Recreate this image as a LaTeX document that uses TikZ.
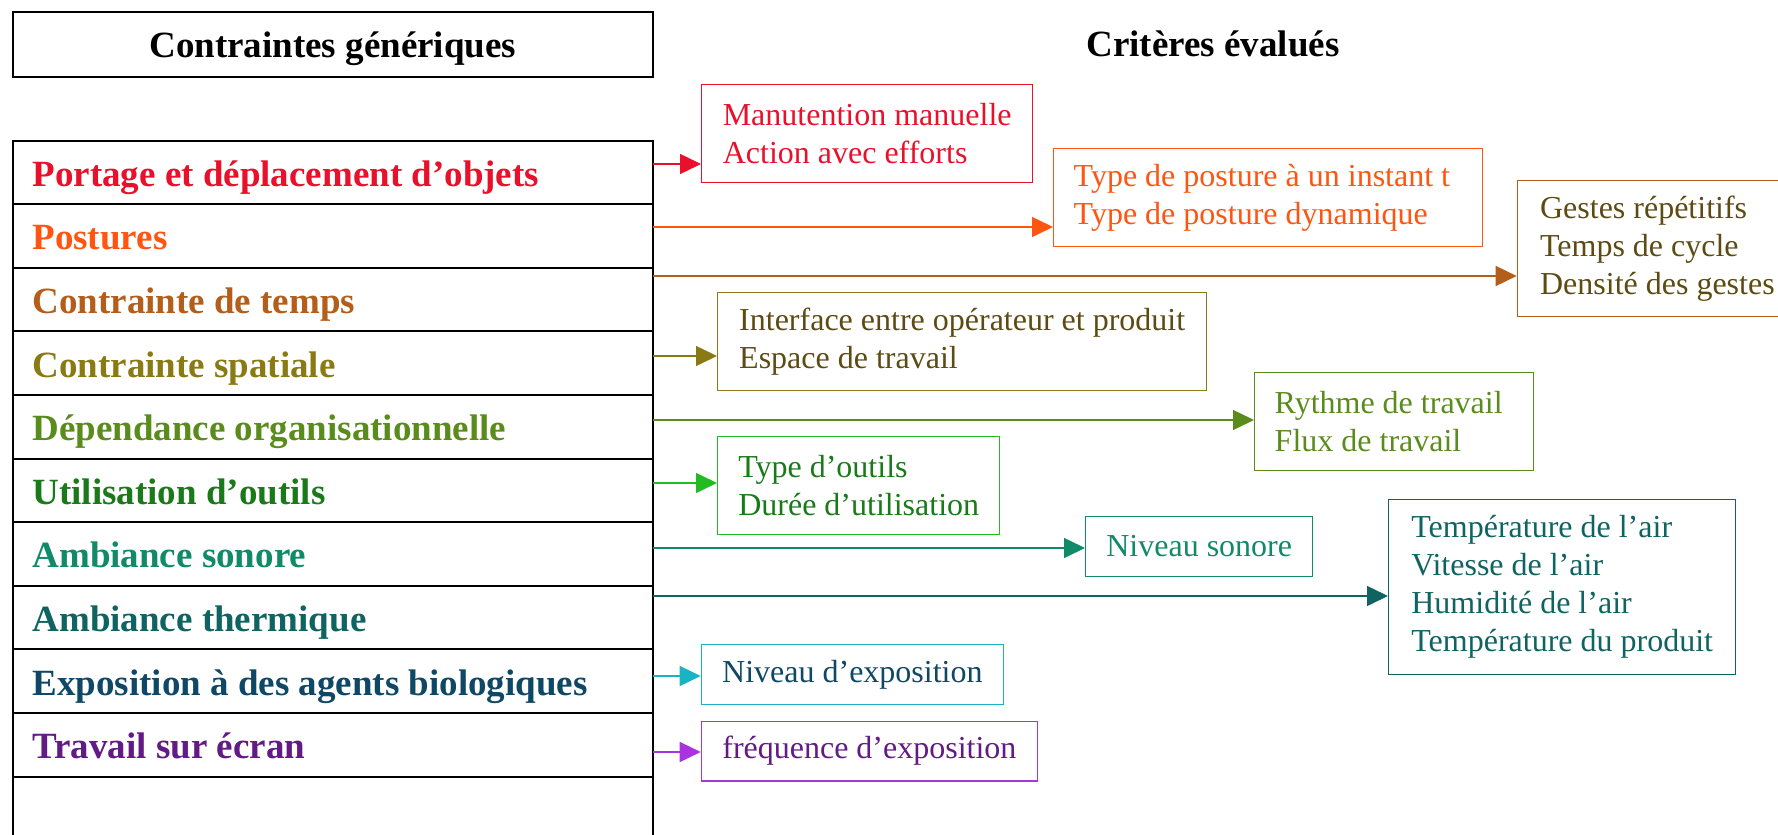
\documentclass[tikz,border=0pt]{standalone}
\usepackage{fontspec}
\setmainfont{Liberation Serif}
\usetikzlibrary{positioning, arrows.meta}

\definecolor{portage}{HTML}{E8102A}
\definecolor{posture}{HTML}{FF5511}
\definecolor{temps}{HTML}{B35E1A}
\definecolor{tempstxt}{HTML}{5C4B12}
\definecolor{spatial}{HTML}{8A7A14}
\definecolor{orga}{HTML}{5A8C1C}
\definecolor{outil}{HTML}{22BB22}
\definecolor{outiltxt}{HTML}{1A7A1A}
\definecolor{sonore}{HTML}{108A68}
\definecolor{thermique}{HTML}{0F6462}
\definecolor{bio}{HTML}{18B4C4}
\definecolor{biotxt}{HTML}{0F4866}
\definecolor{ecran}{HTML}{AA33E0}
\definecolor{ecrantxt}{HTML}{621A84}

\begin{document}
\begin{tikzpicture}[
x=0.5pt, y=-0.5pt,
headbox/.style={draw,
  line width=1pt,
  outer sep=0pt,
  minimum width=320.25pt,
  minimum height=32.2pt,
  text height=13pt, text depth=0pt,
  font=\bfseries\fontsize{18.5}{22}\selectfont
},
rowbox/.style={draw,
  line width=1pt,
  outer sep=0pt,
  inner xsep=10pt, inner ysep=0pt,
  text width=300.25pt,
  minimum height=31.8pt,
  text height=14pt, text depth=0pt,
  align=left,
  execute at begin node={\spaceskip=0pt\xspaceskip=0pt},
  font=\bfseries\fontsize{18.5}{22}\selectfont
},
critbox/.style 2 args={draw,
  line width=0.7pt,
  anchor=north west,
  align=left,
  inner xsep=10pt, inner ysep=0pt,
  minimum width=#1,
  minimum height=#2,
  execute at begin node={\spaceskip=0pt\xspaceskip=0pt},
  font=\fontsize{16}{19}\selectfont
},
link/.style={->, line width=0.75pt},
>={Triangle[length=10.5pt, width=10pt]}
]
\useasboundingbox (0,0) rectangle (1778,835);

% headings
\node[headbox, anchor=north west] (gen) at (12.5,12.3)
    {Contraintes génériques};
\node[font=\bfseries\fontsize{18.5}{22}\selectfont, anchor=base] (crit) at (1213,56.7)
    {Critères évalués};

% generic constraints
\node[rowbox, anchor=north west, text=portage] (r1) at (12.5,140.5)
    {Portage et déplacement d’objets};
\node[rowbox, below=0pt of r1, text=posture] (r2)
    {Postures};
\node[rowbox, below=0pt of r2, text=temps] (r3)
    {Contrainte de temps};
\node[rowbox, below=0pt of r3, text=spatial] (r4)
    {Contrainte spatiale};
\node[rowbox, below=0pt of r4, text=orga] (r5)
    {Dépendance organisationnelle};
\node[rowbox, below=0pt of r5, text=outiltxt] (r6)
    {Utilisation d’outils};
\node[rowbox, below=0pt of r6, text=sonore] (r7)
    {Ambiance sonore};
\node[rowbox, below=0pt of r7, text=thermique] (r8)
    {Ambiance thermique};
\node[rowbox, below=0pt of r8, text=biotxt] (r9)
    {Exposition à des agents biologiques};
\node[rowbox, below=0pt of r9, text=ecrantxt] (r10)
    {Travail sur écran};
\node[rowbox, below=0pt of r10] (r11)
    {};

% evaluated criteria
\node[critbox={165.5pt}{49pt}, draw=portage, text=portage] (manut) at (701,84)
    {Manutention manuelle\\Action avec efforts};
\node[critbox={214.5pt}{49pt}, text width=194.5pt, draw=posture, text=posture] (post) at (1053,147.7)
    {Type de posture à un instant t\\Type de posture dynamique};
\node[critbox={140pt}{68pt}, draw=temps, text=tempstxt] (gest) at (1516.7,180)
    {Gestes répétitifs\\Temps de cycle\\Densité des gestes};
\node[critbox={244.5pt}{49pt}, draw=spatial, text=tempstxt] (inter) at (717,291.7)
    {Interface entre opérateur et produit\\Espace de travail};
\node[critbox={139.5pt}{49pt}, text width=119.5pt, draw=orga, text=orga] (ryth) at (1254,371.7)
    {Rythme de travail\\Flux de travail};
\node[critbox={141pt}{49pt}, draw=outil, text=outiltxt] (outil) at (717,435.7)
    {Type d’outils\\Durée d’utilisation};
\node[critbox={113.5pt}{30pt}, draw=sonore, text=sonore] (son) at (1085,515.7)
    {Niveau sonore};
\node[critbox={173.5pt}{87.5pt}, draw=thermique, text=thermique] (therm) at (1388,499)
    {Température de l’air\\Vitesse de l’air\\Humidité de l’air\\Température du produit};
\node[critbox={151pt}{30pt}, draw=bio, text=biotxt] (expo) at (700.7,644)
    {Niveau d’exposition};
\node[critbox={168pt}{29.7pt}, draw=ecran, text=ecrantxt] (freq) at (700.7,720.7)
    {fréquence d’exposition};

% links
\coordinate (p1) at (653,164);
\coordinate (p2) at (653,227);
\coordinate (p3) at (653,276);
\coordinate (p4) at (653,356);
\coordinate (p5) at (653,420);
\coordinate (p6) at (653,483);
\coordinate (p7) at (653,548);
\coordinate (p8) at (653,596);
\coordinate (p9) at (653,676);
\coordinate (p10) at (653,752);

\draw[link, portage] (p1) -- (p1 -| manut.west);
\draw[link, posture] (p2) -- (p2 -| post.west);
\draw[link, temps] (p3) -- (p3 -| gest.west);
\draw[link, spatial] (p4) -- (p4 -| inter.west);
\draw[link, orga] (p5) -- (p5 -| ryth.west);
\draw[link, outil] (p6) -- (p6 -| outil.west);
\draw[link, sonore] (p7) -- (p7 -| son.west);
\draw[link, thermique] (p8) -- (p8 -| therm.west);
\draw[link, bio] (p9) -- (p9 -| expo.west);
\draw[link, ecran] (p10) -- (p10 -| freq.west);
\end{tikzpicture}
\end{document}
